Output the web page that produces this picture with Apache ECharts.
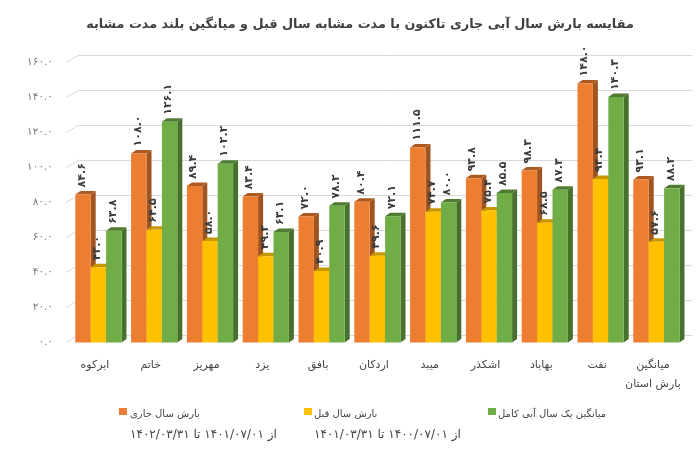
<!DOCTYPE html>
<html><head><meta charset="utf-8">
<style>html,body{margin:0;padding:0;background:#fff}#c{width:700px;height:458px}</style>
<script src="https://cdn.jsdelivr.net/npm/echarts@6/dist/echarts.min.js"></script>
</head><body><div id="c"></div>
<script>
const categories = ['ابرکوه','خاتم','مهریز','یزد','بافق','اردکان','میبد','اشکذر','بهاباد','نفت','میانگین\nبارش استان'];
const current = [84.6,108.0,89.4,83.4,72.0,80.4,111.5,93.8,98.3,148.0,93.1];
const previous = [43.0,64.5,58.0,49.3,40.9,49.6,74.7,75.4,68.5,93.4,57.6];
const longTerm = [63.8,126.1,102.2,63.1,78.2,72.1,80.0,85.5,87.3,140.3,88.2];
const ticks = [0,20,40,60,80,100,120,140,160];
const seriesNames = ['بارش سال جاری','بارش سال قبل','میانگین یک سال آبی کامل'];
const faDigits = v => v.toFixed(1).replace(/\d/g, d => '۰۱۲۳۴۵۶۷۸۹'[d]);
const FONT = '"DejaVu Sans"';
const DX = 5, DY = 3.5, BW = 15.4, SHIFT = 3.5;

function bar3d(idx, front, top, side) {
  return {
    type: 'custom', name: seriesNames[idx], z: 3, clip: false,
    encode: {x: 0, y: 1},
    renderItem(params, api) {
      const cat = api.value(0), val = api.value(1);
      const c = api.coord([cat, 0]), p = api.coord([cat, val]);
      const x = c[0] + SHIFT + (idx - 1) * BW - BW / 2, y0 = c[1], y1 = p[1];
      return {type: 'group', children: [
        {type: 'polygon', z2: 2, shape: {points: [[x+BW,y1],[x+BW+DX,y1-DY],[x+BW+DX,y0-DY],[x+BW,y0]]}, style: {fill: side}},
        {type: 'polygon', z2: 2, shape: {points: [[x,y1],[x+DX,y1-DY],[x+BW+DX,y1-DY],[x+BW,y1]]}, style: {fill: top}},
        {type: 'rect', z2: 2, shape: {x, y: y1, width: BW, height: y0 - y1}, style: {fill: front}},
        {type: 'text', z2: 10, rotation: Math.PI / 2, x: x + BW / 2 - 1, y: y1 - 7,
          style: {text: faDigits(val), fill: '#3a3a3a', font: 'bold 11px ' + FONT, align: 'left', verticalAlign: 'middle'}}
      ]};
    },
    data: categories.map((c, i) => [i, [current, previous, longTerm][idx][i]])
  };
}

const chart = echarts.init(document.getElementById('c'), null, {renderer: 'canvas'});
const legendText = (left, top, text, size) => ({type: 'text', left, top, style: {text, font: size + 'px ' + FONT, fill: '#444'}});
const swatch = (left, fill) => ({type: 'rect', left, top: 408, shape: {width: 8, height: 7}, style: {fill}});
chart.setOption({
  animation: false,
  backgroundColor: '#fff',
  title: {text: 'مقایسه بارش سال آبی جاری تاکنون با مدت مشابه سال قبل و میانگین بلند مدت مشابه',
    left: 355, top: 13, textAlign: 'center',
    textStyle: {fontFamily: FONT, fontSize: 12.8, fontWeight: 'bold', color: '#404040'}},
  grid: [
    {left: 67, right: 19.2, top: 62.5, height: 280},
    {left: 79, right: 8, top: 55, height: 280}
  ],
  xAxis: [
    {type: 'category', gridIndex: 0, data: categories, axisLine: {show: false}, axisTick: {show: false},
      axisLabel: {interval: 0, margin: 13, lineHeight: 19, color: '#444', fontFamily: FONT, fontSize: 11}},
    {type: 'category', gridIndex: 1, data: categories, axisLine: {lineStyle: {color: '#d9d9d9'}}, axisTick: {show: false}, axisLabel: {show: false}}
  ],
  yAxis: [
    {type: 'value', gridIndex: 0, min: 0, max: 160, interval: 20, axisLine: {show: false}, axisTick: {show: false}, splitLine: {show: false},
      axisLabel: {margin: 14, padding: [3, 0, 0, 0], color: '#777', fontFamily: FONT, fontSize: 10.5, formatter: v => faDigits(v)}},
    {type: 'value', gridIndex: 1, min: 0, max: 160, interval: 20, axisLine: {show: false}, axisTick: {show: false},
      splitLine: {lineStyle: {color: '#d9d9d9', width: 1}}, axisLabel: {show: false}}
  ],
  series: [
    {type: 'custom', xAxisIndex: 0, yAxisIndex: 0, z: 1, clip: false, silent: true,
      renderItem(params, api) {
        const p = api.coord([0, api.value(0)]);
        const left = params.coordSys.x;
        return {type: 'line', shape: {x1: left - 1, y1: p[1], x2: left + 12, y2: p[1] - 7.5}, style: {stroke: '#d9d9d9', lineWidth: 1}};
      },
      data: ticks.map(t => [t])},
    bar3d(0, '#ed7d31', '#ad5a22', '#a0541f'),
    bar3d(1, '#ffc000', '#c79600', '#b98c00'),
    bar3d(2, '#70ad47', '#4f7c32', '#47702d')
  ],
  graphic: [
    swatch(119, '#ed7d31'),
    legendText(130, 409, seriesNames[0], 10),
    legendText(130, 429, 'از ۱۴۰۱/۰۷/۰۱ تا ۱۴۰۲/۰۳/۳۱', 12),
    swatch(304, '#ffc000'),
    legendText(314, 409, seriesNames[1], 10),
    legendText(314, 429, 'از ۱۴۰۰/۰۷/۰۱ تا ۱۴۰۱/۰۳/۳۱', 12),
    swatch(488, '#70ad47'),
    legendText(498, 409, seriesNames[2], 10)
  ]
});
</script></body></html>
